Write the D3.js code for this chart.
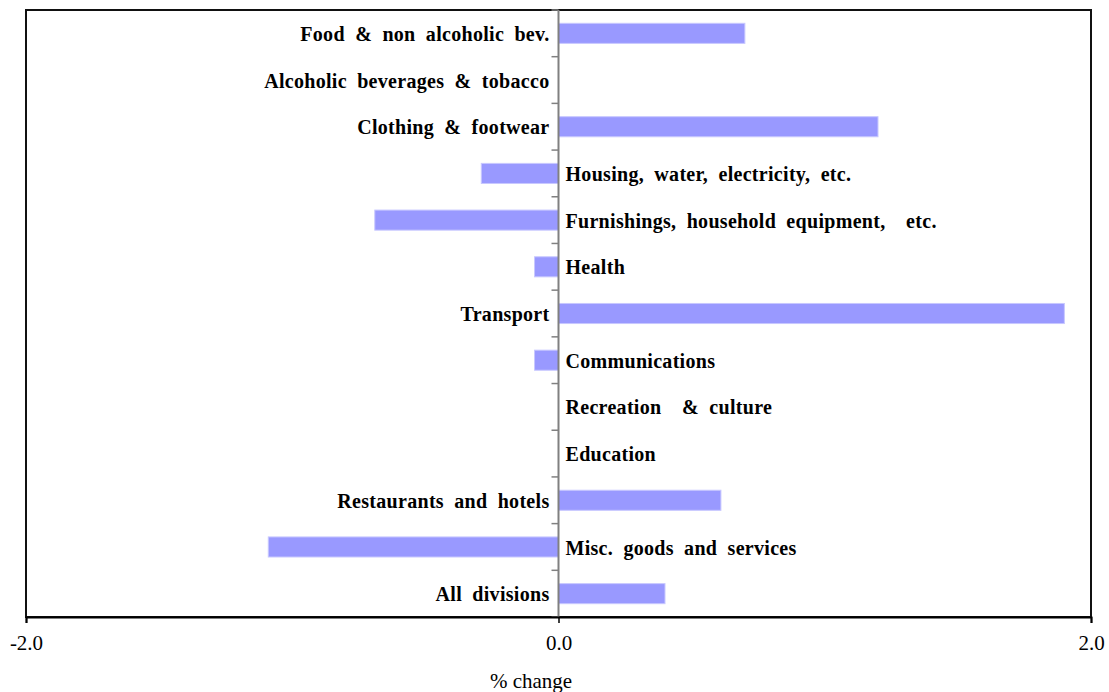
<!DOCTYPE html>
<html>
<head>
<meta charset="utf-8">
<script src="https://cdn.jsdelivr.net/npm/d3@7"></script>
<style>
  body { margin: 0; background: #fff; }
</style>
</head>
<body>
<div id="chart"></div>
<script>
// categories top to bottom, % change
const categories = [
  "Food & non alcoholic bev.",
  "Alcoholic beverages & tobacco",
  "Clothing & footwear",
  "Housing, water, electricity, etc.",
  "Furnishings, household equipment,  etc.",
  "Health",
  "Transport",
  "Communications",
  "Recreation  & culture",
  "Education",
  "Restaurants and hotels",
  "Misc. goods and services",
  "All divisions"
];
const values = [0.70, 0.0, 1.20, -0.29, -0.69, -0.09, 1.90, -0.09, 0.0, 0.0, 0.61, -1.09, 0.40];
// zero rows whose label sits right of the axis
const zeroRightLabels = ["Recreation  & culture", "Education"];
const xTicks = [-2, 0, 2];
const xTitle = "% change";

const width = 1109, height = 692;
const plotLeft = 26, plotRight = 1091, plotTop = 10, plotBottom = 617;
const serif = "'Liberation Serif', 'Times New Roman', Times, serif";

const svg = d3.select("#chart").append("svg")
  .attr("width", width)
  .attr("height", height)
  .style("font-family", serif);

const x = d3.scaleLinear().domain([-2, 2]).range([plotLeft, plotRight]);
const y = d3.scaleBand().domain(categories).range([plotTop, plotBottom])
  .paddingInner(0.57).paddingOuter(0.285);

const data = categories.map((c, i) => ({ cat: c, v: values[i] }));
const onRight = d => d.v < 0 || (d.v === 0 && zeroRightLabels.includes(d.cat));

// frame
svg.append("rect")
  .attr("x", plotLeft).attr("y", plotTop)
  .attr("width", plotRight - plotLeft).attr("height", plotBottom - plotTop)
  .attr("fill", "none")
  .attr("stroke", "#111")
  .attr("stroke-width", 2);

// bars
svg.selectAll(".bar")
  .data(data)
  .enter()
  .append("rect")
  .attr("class", "bar")
  .attr("x", d => x(Math.min(0, d.v)))
  .attr("width", d => Math.abs(x(d.v) - x(0)))
  .attr("y", d => y(d.cat))
  .attr("height", y.bandwidth())
  .attr("fill", "#9999ff")
  .attr("stroke", "#c8c8ff")
  .attr("stroke-width", 1);

// zero axis with category ticks
const step = y.step();
const bounds = d3.range(categories.length + 1).map(i => plotTop + i * step);
svg.append("g")
  .selectAll("line")
  .data(bounds)
  .enter()
  .append("line")
  .attr("x1", x(0) - 7).attr("x2", x(0))
  .attr("y1", d => d).attr("y2", d => d)
  .attr("stroke", "#808080")
  .attr("stroke-width", 1.5);

svg.append("line")
  .attr("x1", x(0)).attr("x2", x(0))
  .attr("y1", plotTop).attr("y2", plotBottom)
  .attr("stroke", "#808080")
  .attr("stroke-width", 2);

// category labels
svg.selectAll(".lab")
  .data(data)
  .enter()
  .append("text")
  .attr("class", "lab")
  .attr("x", d => onRight(d) ? x(0) + 7 : x(0) - 9)
  .attr("text-anchor", d => onRight(d) ? "start" : "end")
  .attr("y", d => y(d.cat) + y.bandwidth() / 2)
  .attr("dy", "0.38em")
  .style("font-family", serif)
  .style("font-size", "20px")
  .style("font-weight", "bold")
  .style("word-spacing", "5px")
  .style("letter-spacing", "0.3px")
  .style("white-space", "pre")
  .attr("fill", "#000")
  .text(d => d.cat);

// x axis
const xAxis = svg.append("g")
  .attr("transform", "translate(0," + plotBottom + ")")
  .call(d3.axisBottom(x).tickValues(xTicks).tickSize(6).tickPadding(12)
    .tickFormat(d => d.toFixed(1)));
xAxis.attr("font-family", null);
xAxis.select(".domain").attr("stroke", "#000").attr("stroke-width", 2);
xAxis.selectAll(".tick line").attr("stroke", "#000").attr("stroke-width", 1.5);
xAxis.selectAll(".tick text")
  .style("font-family", serif)
  .style("font-size", "21px")
  .attr("fill", "#000");

svg.append("text")
  .attr("x", 531)
  .attr("y", 688)
  .attr("text-anchor", "middle")
  .style("font-family", serif)
  .style("font-size", "21px")
  .attr("fill", "#000")
  .text(xTitle);
</script>
</body>
</html>
